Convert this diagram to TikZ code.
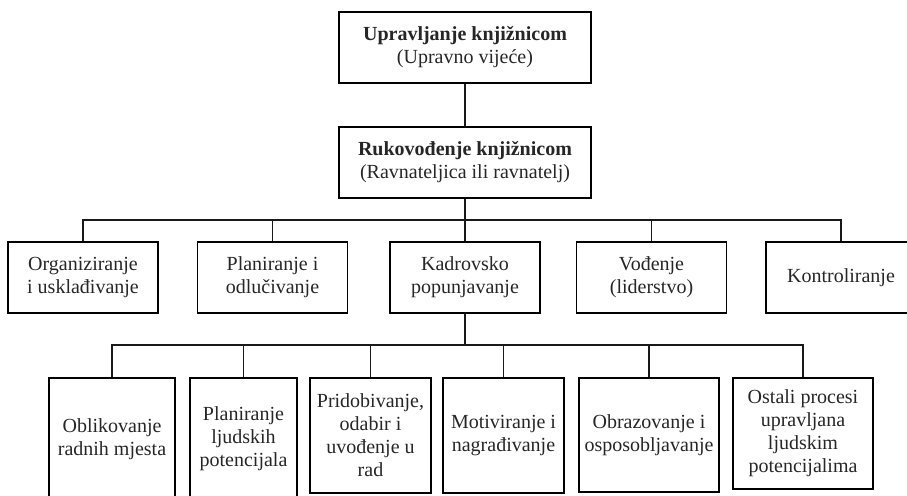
\documentclass[tikz,border=0pt]{standalone}
\usepackage{fontspec}
\setmainfont{Liberation Serif}
\usepackage{tikz}
\usetikzlibrary{positioning,calc}
\tikzset{
  orgbox/.style ={rectangle, draw=black, line width=0.9pt, align=center,
                  text=black!85, font=\fontsize{10}{11.5}\selectfont,
                  inner sep=2pt, minimum width=75pt, minimum height=35.5pt},
  headbox/.style={orgbox, minimum width=126pt},
  link/.style   ={draw=black!90, line width=0.7pt},
}

\begin{document}
\begin{tikzpicture}[x=0.5pt, y=-0.5pt]
  \useasboundingbox (0,0) rectangle (907,495);
  % vodstvo
  \node[headbox] (upr) at (465,47.5)  {\textbf{Upravljanje knjižnicom}\\(Upravno vijeće)};
  \node[headbox] (ruk) at (465,162.5) {\textbf{Rukovođenje knjižnicom}\\(Ravnateljica ili ravnatelj)};
  % funkcije
  \node[orgbox] (org)  at (83,277.5)    {Organiziranje\\i usklađivanje};
  \node[orgbox] (plan) at (272.5,277.5) {Planiranje i\\odlučivanje};
  \node[orgbox] (kadr) at (465,277.5)   {Kadrovsko\\popunjavanje};
  \node[orgbox] (vod)  at (651.5,277.5) {Vođenje\\(liderstvo)};
  \node[orgbox] (kon)  at (841,277.5)   {Kontroliranje};
  % kadrovski procesi
  \node[orgbox, minimum width=63pt,   minimum height=61pt]   (obl)  at (112,439)     {Oblikovanje\\radnih mjesta};
  \node[orgbox, minimum width=53.5pt, minimum height=61pt]   (pljp) at (243.5,439)   {Planiranje\\ljudskih\\potencijala};
  \node[orgbox, minimum width=60.5pt, minimum height=57.5pt] (prid) at (370.5,435.5) {Pridobivanje,\\odabir i\\uvođenje u\\rad};
  \node[orgbox, minimum width=60.5pt, minimum height=57.5pt] (mot)  at (503.5,435.5) {Motiviranje i\\nagrađivanje};
  \node[orgbox, minimum width=70pt,   minimum height=57pt]   (obr)  at (649,435)     {Obrazovanje i\\osposobljavanje};
  \node[orgbox, minimum width=70pt,   minimum height=55.5pt] (ost)  at (803,433.5)   {Ostali procesi\\upravljana\\ljudskim\\potencijalima};
  \coordinate (bus1) at (465,220);
  \coordinate (bus2) at (465,345);
  \draw[link] (upr) -- (ruk);
  \draw[link] (ruk) -- (kadr);
  \foreach \n in {org,plan,vod,kon}
    \draw[link] (bus1) -| (\n);
  \draw[link] (kadr) -- (bus2);
  \foreach \n in {obl,pljp,prid,mot,obr,ost}
    \draw[link] (bus2) -| (\n);
\end{tikzpicture}
\end{document}
